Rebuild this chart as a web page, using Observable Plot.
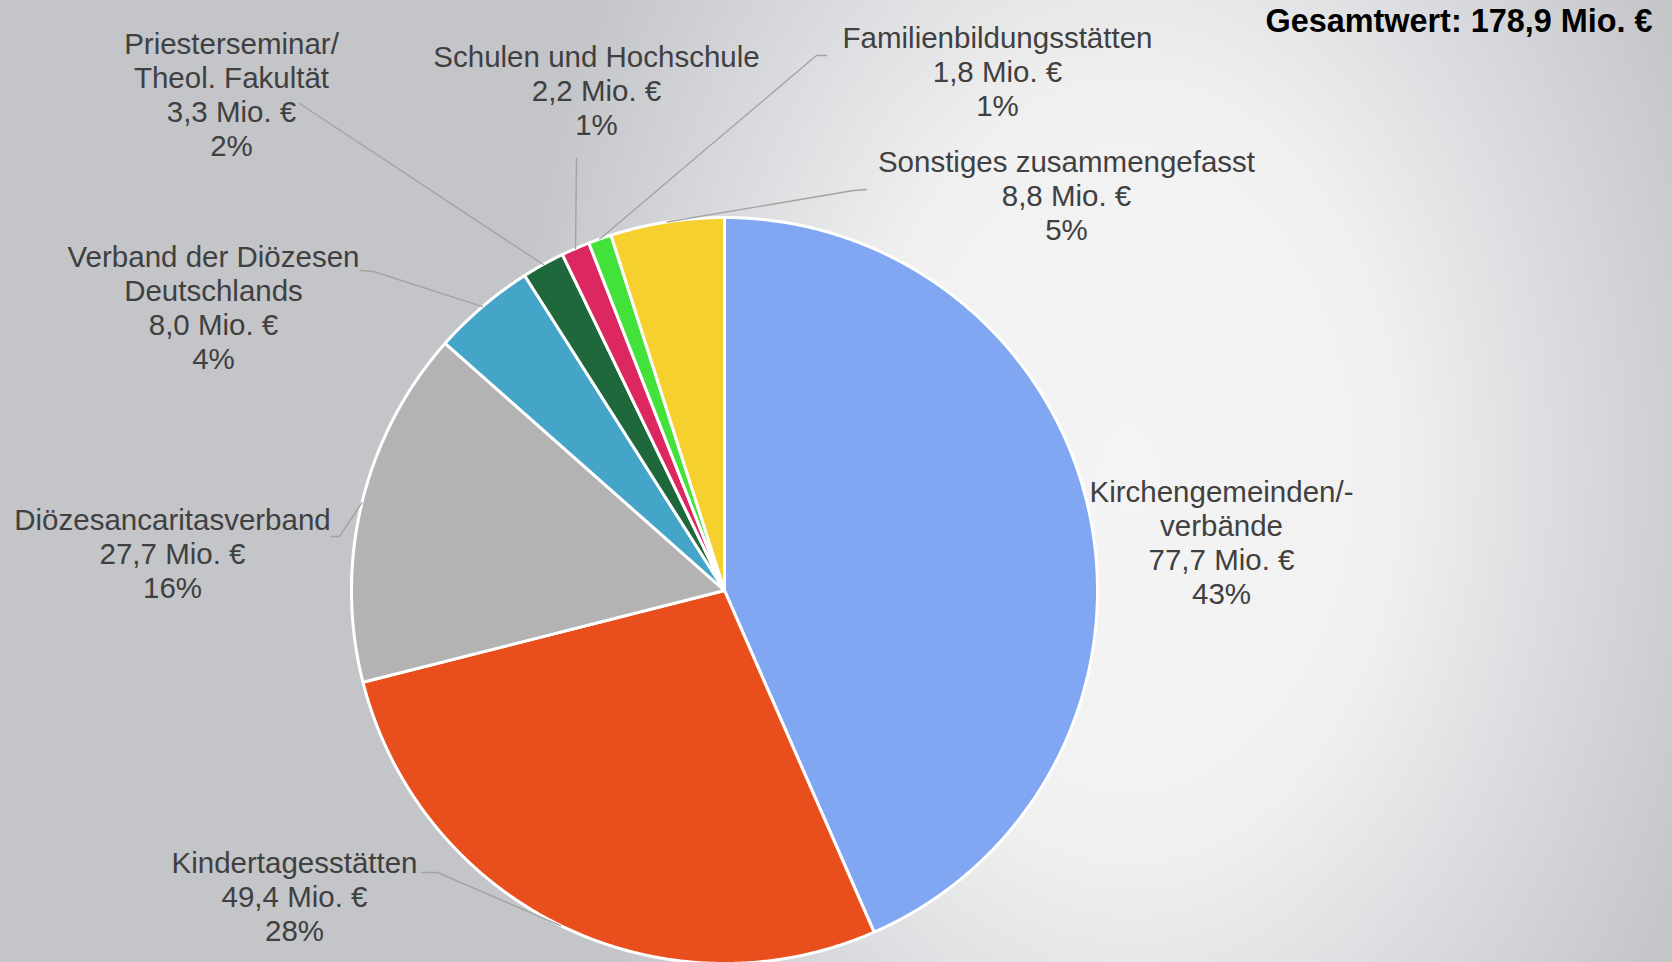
<!DOCTYPE html>
<html><head><meta charset="utf-8">
<script src="https://cdn.jsdelivr.net/npm/d3@7"></script>
<script src="https://cdn.jsdelivr.net/npm/@observablehq/plot@0.6"></script>
<style>html,body{margin:0;padding:0;overflow:hidden;background:#c3c5c9}</style>
</head><body><div id="chart"></div>
<script>
// ---- data ----
const categories = [
  "Kirchengemeinden/-\nverbände",
  "Kindertagesstätten",
  "Diözesancaritasverband",
  "Verband der Diözesen\nDeutschlands",
  "Priesterseminar/\nTheol. Fakultät",
  "Schulen und Hochschule",
  "Familienbildungsstätten",
  "Sonstiges zusammengefasst"
];
const values = [77.7, 49.4, 27.7, 8.0, 3.3, 2.2, 1.8, 8.8];
const percentLabels = ["43%", "28%", "16%", "4%", "2%", "1%", "1%", "5%"];
const totalLabel = "Gesamtwert: 178,9 Mio. €";

// ---- styles ----
const colors = ["#81a7f2", "#e84f1c", "#b3b3b3", "#45a5c8", "#1f683b", "#dc2761", "#42e23b", "#f5d02e"];

// ---- layout (pixels) ----
const W = 1672, H = 962, CX = 724, CY = 590, R = 373;
const labelCenters = [[1221, 542], [294, 896], [172, 553], [213, 307], [231, 94], [596, 90], [997, 71], [1066, 195]];
const leaderStarts = [null, [[421, 872], [437, 872]], [[331, 536], [339, 536]], [[360, 270], [373, 271]], [[299, 103]], [[576, 158]], [[826, 55], [816, 55]], [[866, 189], [853, 190]]];

const ux = px => (px - CX) / R;
const uy = py => (CY - py) / R;

const arcs = d3.pie().sort(null).value(d => d)(values);

// slice outlines
const slicePts = [];
arcs.forEach((a, i) => {
  const name = categories[i];
  slicePts.push({name, x: 0, y: 0});
  const n = Math.max(2, Math.ceil((a.endAngle - a.startAngle) / 0.005));
  for (let k = 0; k <= n; k++) {
    const t = a.startAngle + (a.endAngle - a.startAngle) * k / n;
    slicePts.push({name, x: Math.sin(t), y: Math.cos(t)});
  }
  slicePts.push({name, x: 0, y: 0});
});

// leader lines
const leaderPts = [];
arcs.forEach((a, i) => {
  if (!leaderStarts[i]) return;
  const mid = (a.startAngle + a.endAngle) / 2;
  leaderStarts[i].forEach(p => leaderPts.push({id: i, x: ux(p[0]), y: uy(p[1])}));
  leaderPts.push({id: i, x: Math.sin(mid), y: Math.cos(mid)});
});

const fmt = v => v.toFixed(1).replace(".", ",") + " Mio. €";
const labels = categories.map((c, i) => ({
  text: c + "\n" + fmt(values[i]) + "\n" + percentLabels[i],
  x: ux(labelCenters[i][0]), y: uy(labelCenters[i][1])
}));

const chart = Plot.plot({
  width: W, height: H,
  margin: 0,
  x: {domain: [ux(0), ux(W)], range: [0, W], axis: null},
  y: {domain: [uy(H), uy(0)], range: [H, 0], axis: null},
  color: {domain: categories, range: colors},
  style: {
    background: "radial-gradient(ellipse 680px 980px at 1130px 470px, #f4f4f4 0%, #f1f1f1 38%, #dcdde0 62%, #c3c5c9 92%)",
    fontFamily: "'Liberation Sans', Arial, sans-serif"
  },
  marks: [
    Plot.line(slicePts, {x: "x", y: "y", z: "name", fill: "name", stroke: "white", strokeWidth: 3, strokeLinejoin: "round", curve: "linear"}),
    Plot.line(leaderPts, {x: "x", y: "y", z: "id", stroke: "#a3a3a3", strokeWidth: 1.4}),
    Plot.text(labels, {x: "x", y: "y", text: "text", fontSize: 29.5, lineHeight: 1.15, fill: "#404040", textAnchor: "middle"}),
    Plot.text([totalLabel], {frameAnchor: "top-right", dx: -20, dy: 8, lineAnchor: "top", text: d => d, fontSize: 32.4, fontWeight: "bold", fill: "#000"})
  ]
});
document.getElementById("chart").appendChild(chart);
</script>
</body></html>
